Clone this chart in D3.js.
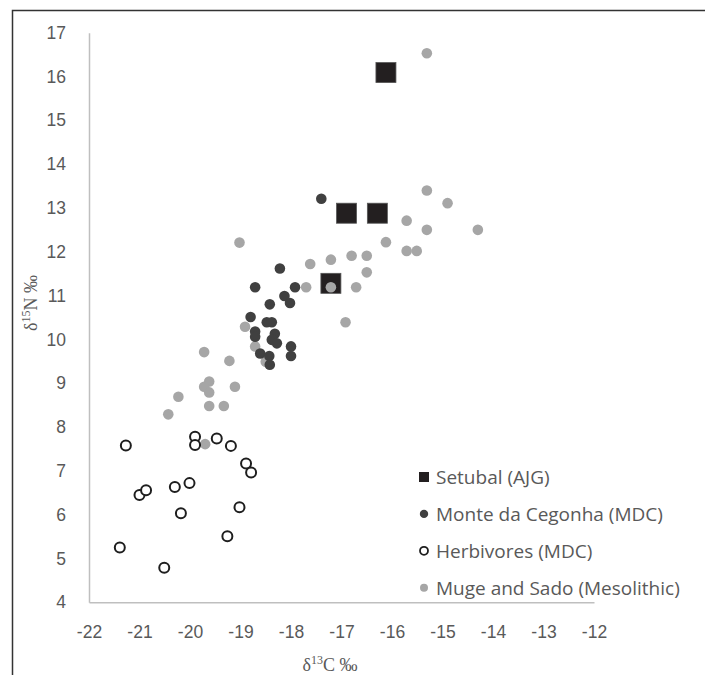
<!DOCTYPE html>
<html>
<head>
<meta charset="utf-8">
<script src="https://d3js.org/d3.v7.min.js"></script>
<style>
  body { margin: 0; background: #fff; }
  svg { font-family: "Open Sans", "Noto Sans", sans-serif; }
  .axis text { fill: #595959; font-size: 17.5px; }
  .axis path { stroke: #bfbfbf; stroke-width: 1.5; }
</style>
</head>
<body>
<svg id="svg"></svg>
<script>
// values (d13C, d15N)
var setubalC = [-16.12, -16.90, -16.29, -17.21]
var setubalN = [16.09, 12.88, 12.88, 11.28]

var mdcC = [-17.40, -18.22, -18.71, -17.92, -18.13, -18.02, -18.42, -18.80, -18.48, -18.38,
            -18.71, -18.71, -18.32, -18.38, -18.28, -18.00, -18.00, -18.61, -18.43, -18.42]
var mdcN = [13.21, 11.62, 11.19, 11.19, 10.99, 10.83, 10.80, 10.51, 10.39, 10.39,
            10.18, 10.06, 10.13, 9.99, 9.91, 9.84, 9.62, 9.68, 9.62, 9.42]

var herbC = [-21.27, -19.90, -19.90, -19.47, -19.19, -18.89, -18.79, -21.00, -20.87, -20.30,
             -20.01, -20.18, -19.02, -19.26, -21.39, -20.51]
var herbN = [7.58, 7.78, 7.59, 7.74, 7.57, 7.17, 6.96, 6.45, 6.56, 6.63,
             6.72, 6.03, 6.17, 5.51, 5.25, 4.79]

var mugeC = [-15.31, -15.31, -14.90, -15.71, -15.31, -14.30, -16.12, -15.71, -15.51, -17.62,
             -17.21, -16.80, -16.50, -16.50, -17.70, -17.21, -16.71, -16.92,
             -19.02, -18.91, -18.71, -18.50, -19.72, -19.22, -19.62, -19.72, -19.62, -19.11,
             -20.23, -19.62, -19.33, -20.43, -19.70]
var mugeN = [16.53, 13.40, 13.11, 12.71, 12.50, 12.50, 12.22, 12.02, 12.02, 11.72,
             11.82, 11.91, 11.91, 11.53, 11.19, 11.19, 11.19, 10.39,
             12.21, 10.29, 9.84, 9.49, 9.71, 9.51, 9.04, 8.92, 8.79, 8.92,
             8.69, 8.48, 8.48, 8.29, 7.61]

var xTicks = [-22, -21, -20, -19, -18, -17, -16, -15, -14, -13, -12]
var yTicks = [4, 5, 6, 7, 8, 9, 10, 11, 12, 13, 14, 15, 16, 17]

var legendLabels = ["Setubal (AJG)", "Monte da Cegonha (MDC)", "Herbivores (MDC)", "Muge and Sado (Mesolithic)"]

var w = 705
var h = 675

function pairs(cs, ns) {
    return cs.map(function (c, i) { return { c: c, n: ns[i] } })
}

// plain hyphen for negatives, like the original
function plain(v) { return String(v) }

var svg = d3.select("#svg")
    .attr("width", w)
    .attr("height", h)

// frame (only top and left edge are visible in the picture)
svg.append("path")
    .attr("d", "M12.5,675 V10.5 H705")
    .attr("fill", "none")
    .attr("stroke", "#333")
    .attr("stroke-width", 1.5)

var x = d3.scaleLinear()
    .domain([-22, -12])
    .range([89, 594])

var y = d3.scaleLinear()
    .domain([4, 17])
    .range([602.3, 32.7])

svg.append("g")
    .attr("class", "x axis")
    .attr("transform", "translate(0," + y(4) + ")")
    .call(d3.axisBottom(x).tickValues(xTicks).tickFormat(plain).tickSize(0).tickPadding(23).tickSizeOuter(0))

svg.append("g")
    .attr("class", "y axis")
    .attr("transform", "translate(" + x(-22) + ",0)")
    .call(d3.axisLeft(y).tickValues(yTicks).tickFormat(plain).tickSize(0).tickPadding(23).tickSizeOuter(0))

// axis titles
var xt = svg.append("text")
    .attr("x", 330)
    .attr("y", 671)
    .attr("text-anchor", "middle")
    .attr("fill", "#595959")
    .attr("font-size", 18)
    .attr("font-family", "'Liberation Serif', serif")
xt.append("tspan").text("\u03b4")
xt.append("tspan").attr("font-size", 12).attr("dy", -7).text("13")
xt.append("tspan").attr("dy", 7).text("C \u2030")

var yt = svg.append("text")
    .attr("transform", "translate(37,303) rotate(-90)")
    .attr("text-anchor", "middle")
    .attr("fill", "#595959")
    .attr("font-size", 18)
    .attr("font-family", "'Liberation Serif', serif")
yt.append("tspan").text("\u03b4")
yt.append("tspan").attr("font-size", 12).attr("dy", -7).text("15")
yt.append("tspan").attr("dy", 7).text("N \u2030")

// Muge and Sado (drawn first, lightest)
svg.selectAll(".muge")
    .data(pairs(mugeC, mugeN))
    .enter().append("circle")
    .attr("class", "muge")
    .attr("cx", function (d) { return x(d.c) })
    .attr("cy", function (d) { return y(d.n) })
    .attr("r", 5.3)
    .attr("fill", "#a6a6a6")

// Setubal squares
svg.selectAll(".setubal")
    .data(pairs(setubalC, setubalN))
    .enter().append("rect")
    .attr("class", "setubal")
    .attr("x", function (d) { return x(d.c) - 10 })
    .attr("y", function (d) { return y(d.n) - 10 })
    .attr("width", 20)
    .attr("height", 20)
    .attr("fill", "#231f20")
    .attr("stroke", "#555")
    .attr("stroke-width", 0.8)

// the gray point that sits on top of the lowest square
svg.append("circle")
    .attr("cx", x(mugeC[15]))
    .attr("cy", y(mugeN[15]))
    .attr("r", 5.3)
    .attr("fill", "#a6a6a6")

// Monte da Cegonha
svg.selectAll(".mdc")
    .data(pairs(mdcC, mdcN))
    .enter().append("circle")
    .attr("class", "mdc")
    .attr("cx", function (d) { return x(d.c) })
    .attr("cy", function (d) { return y(d.n) })
    .attr("r", 5.3)
    .attr("fill", "#404040")

// Herbivores
svg.selectAll(".herb")
    .data(pairs(herbC, herbN))
    .enter().append("circle")
    .attr("class", "herb")
    .attr("cx", function (d) { return x(d.c) })
    .attr("cy", function (d) { return y(d.n) })
    .attr("r", 5)
    .attr("fill", "#fff")
    .attr("stroke", "#1e1e1e")
    .attr("stroke-width", 2)

// legend
var legend = svg.append("g").attr("transform", "translate(424,477)")
var rowH = 36.9

legend.selectAll("text")
    .data(legendLabels)
    .enter().append("text")
    .attr("x", 12)
    .attr("y", function (d, i) { return i * rowH })
    .attr("dy", "0.36em")
    .attr("fill", "#595959")
    .attr("font-size", 19)
    .text(function (d) { return d })

legend.append("rect")
    .attr("x", -5).attr("y", -5)
    .attr("width", 10).attr("height", 10)
    .attr("fill", "#231f20")
legend.append("circle")
    .attr("cx", 0).attr("cy", rowH).attr("r", 4.2)
    .attr("fill", "#404040")
legend.append("circle")
    .attr("cx", 0).attr("cy", 2 * rowH).attr("r", 4)
    .attr("fill", "#fff").attr("stroke", "#1e1e1e").attr("stroke-width", 1.8)
legend.append("circle")
    .attr("cx", 0).attr("cy", 3 * rowH).attr("r", 4)
    .attr("fill", "#a6a6a6")
</script>
</body>
</html>
